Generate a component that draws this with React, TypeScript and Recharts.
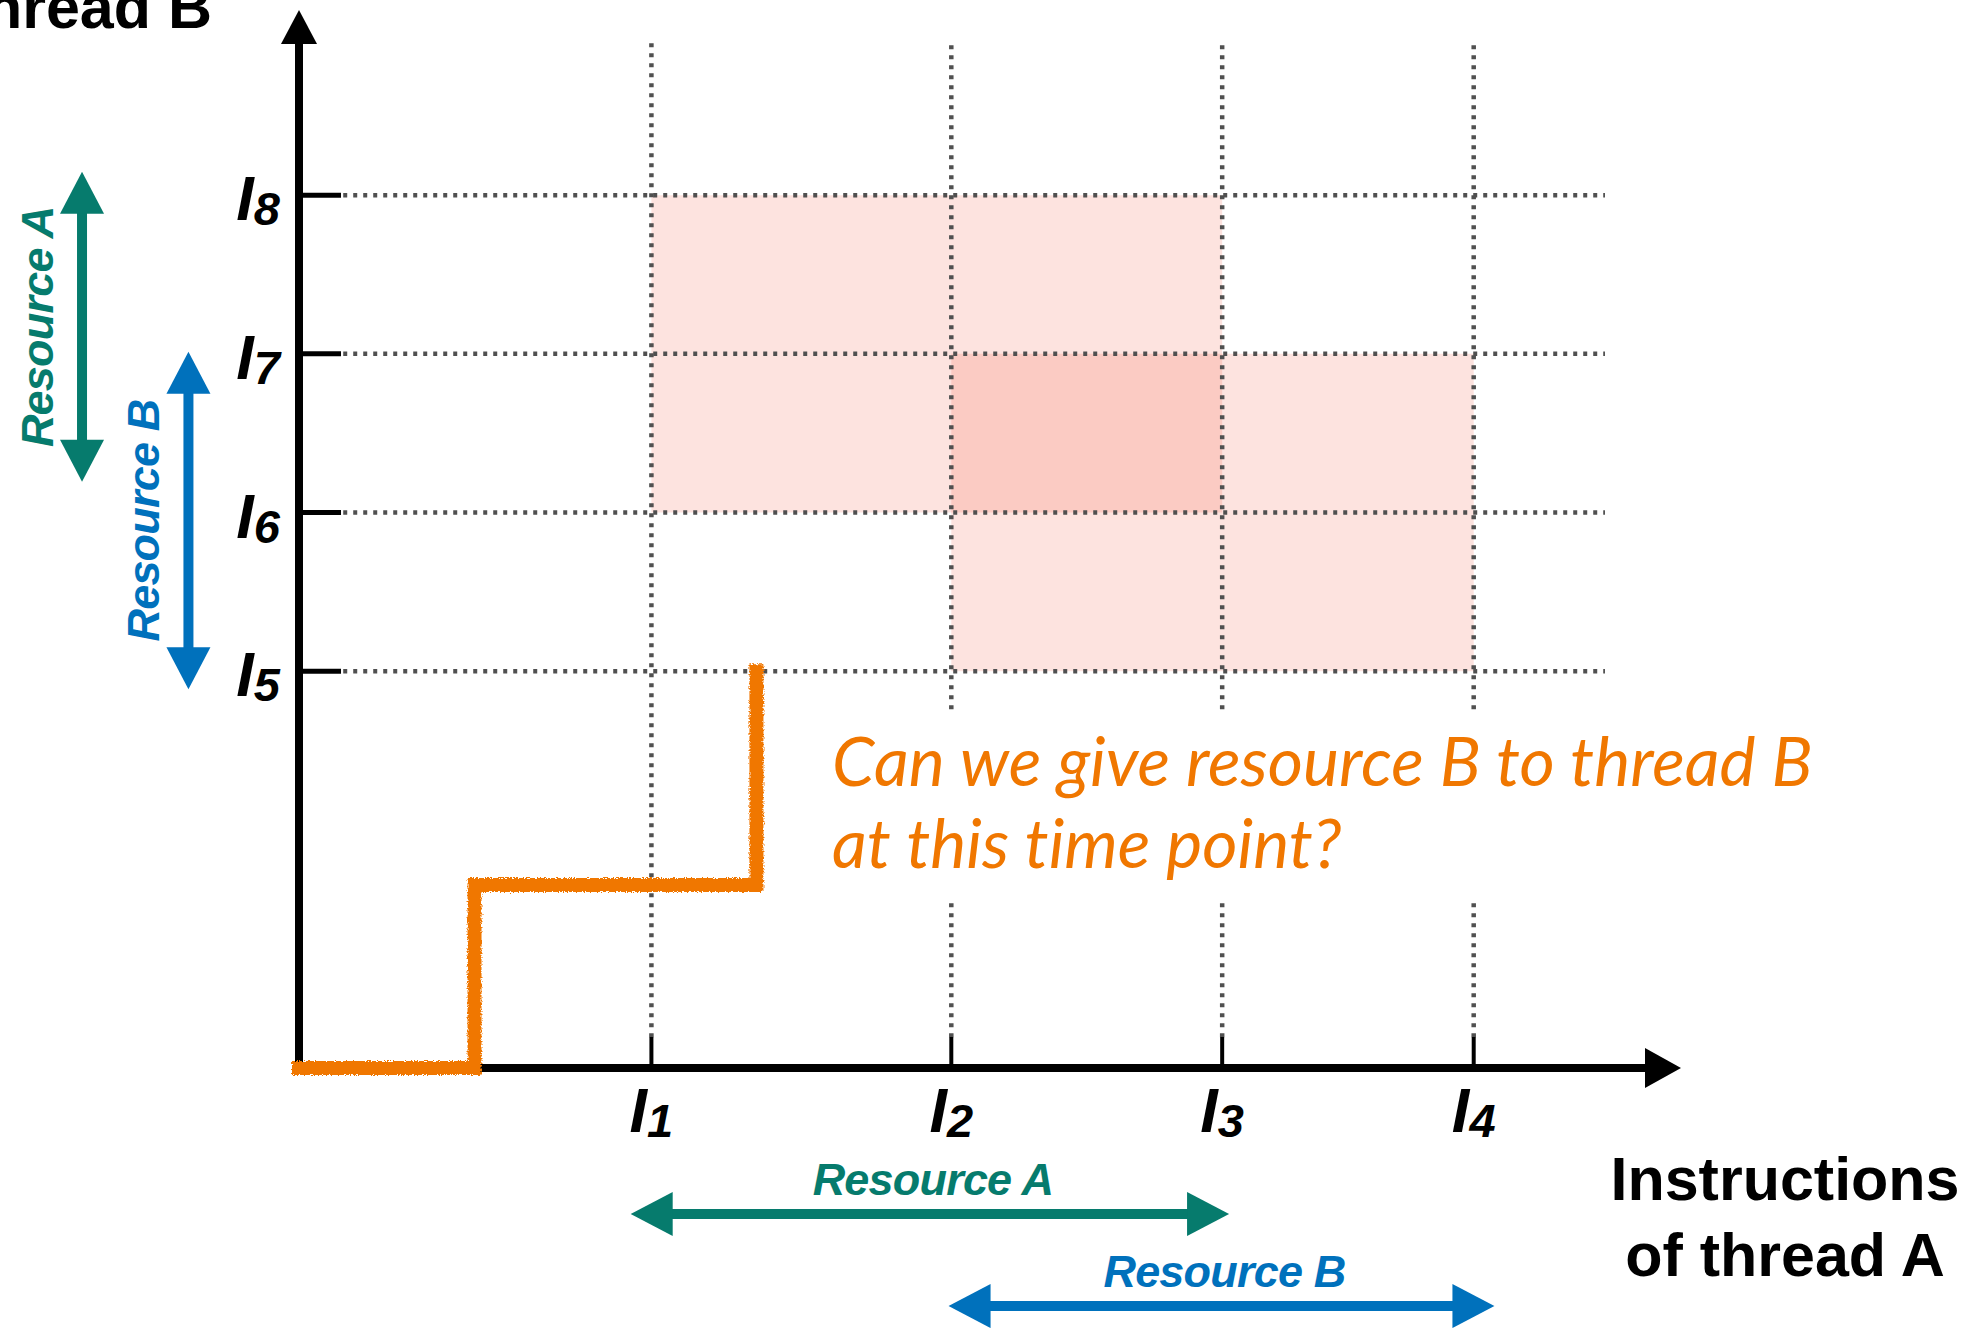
import React from 'react';
import { ComposedChart, Line, XAxis, YAxis, ReferenceLine, ReferenceArea } from 'recharts';

const W = 1978;
const H = 1328;

// instruction positions of each thread (axis units 0..100)
const threadATicks = [25.5, 47.2, 66.8, 85.0];
const threadALabels = ['1', '2', '3', '4'];
const threadBTicks = [37.5, 52.5, 67.5, 82.5];
const threadBLabels = ['5', '6', '7', '8'];

// joint progress of the two threads
const pathX = [0, 12.7, 33.1];
const pathY = [0, 17.3, 37.5];

// where each resource is held (forbidden zones)
const zoneNames = ['Resource A', 'Resource B'];
const zoneX = [[threadATicks[0], threadATicks[2]], [threadATicks[1], threadATicks[3]]];
const zoneY = [[threadBTicks[1], threadBTicks[3]], [threadBTicks[0], threadBTicks[2]]];

// resource arrows below the x axis and left of the y axis
const holdXSpan = [[24.0, 67.3], [47.0, 86.5]];
const holdXLevel = [-13.8, -22.5];
const holdYSpan = [[84.7, 55.4], [67.7, 35.8]];
const holdYLevel = [-15.7, -8.0];

// dotted guide extents, and the gap left for the question
const gridXRange = [3.2, 94.5];
const gridYRange = [2.9, 97.0];
const questionGap = [16.1, 33.9];
const questionFromX = 37.7;

const question = ['Can we give resource B to thread B', 'at this time point?'];

const teal = '#067b6d';
const blue = '#0071bc';
const orange = '#f07700';
const grid = '#505050';
const resColors = [teal, blue];
const font = "'Liberation Sans', Arial, Helvetica, sans-serif";

const data = pathX.map((x, i) => ({ x, y: pathY[i] }));

type Seg = { x1?: number; y1?: number; x2?: number; y2?: number };

const arrowShape = (
  color: string,
  width: number,
  head: number,
  headW: number,
  both: boolean,
  extra?: (x1: number, y1: number, x2: number, y2: number) => React.ReactNode
) => (p: Seg) => {
  const x1 = Number(p.x1), y1 = Number(p.y1), x2 = Number(p.x2), y2 = Number(p.y2);
  const len = Math.hypot(x2 - x1, y2 - y1) || 1;
  const ux = (x2 - x1) / len;
  const uy = (y2 - y1) / len;
  const nx = -uy;
  const ny = ux;
  const tri = (tx: number, ty: number, dx: number, dy: number) => {
    const bx = tx - dx * head;
    const by = ty - dy * head;
    return `${tx},${ty} ${bx + (nx * headW) / 2},${by + (ny * headW) / 2} ${bx - (nx * headW) / 2},${by - (ny * headW) / 2}`;
  };
  const sx = both ? x1 + ux * (head - 2) : x1;
  const sy = both ? y1 + uy * (head - 2) : y1;
  const ex = x2 - ux * (head - 2);
  const ey = y2 - uy * (head - 2);
  return (
    <g>
      <line x1={sx} y1={sy} x2={ex} y2={ey} stroke={color} strokeWidth={width} />
      <polygon points={tri(x2, y2, ux, uy)} fill={color} />
      {both && <polygon points={tri(x1, y1, -ux, -uy)} fill={color} />}
      {extra && extra(x1, y1, x2, y2)}
    </g>
  );
};

const IndexLabel = ({ x, y, digit, anchor }: { x: number; y: number; digit: string; anchor: 'middle' | 'end' }) => (
  <text x={x} y={y} textAnchor={anchor} fontFamily={font} fontWeight="bold" fontStyle="italic" fill="#000">
    <tspan fontSize={63}>I</tspan>
    <tspan fontSize={47} dy={5}>{digit}</tspan>
  </text>
);

const XTick = (props: any) => {
  const { x, y, payload } = props;
  const i = threadATicks.indexOf(payload.value);
  return (
    <g>
      <line x1={x} y1={y} x2={x} y2={y - 31} stroke="#000" strokeWidth={4} />
      <IndexLabel x={x} y={y + 64} digit={threadALabels[i]} anchor="middle" />
    </g>
  );
};

const YTick = (props: any) => {
  const { x, y, payload } = props;
  const i = threadBTicks.indexOf(payload.value);
  return (
    <g>
      <line x1={x} y1={y} x2={x + 42} y2={y} stroke="#000" strokeWidth={5} />
      <IndexLabel x={x - 19} y={y + 25} digit={threadBLabels[i]} anchor="end" />
    </g>
  );
};

const titleStyle = { fontFamily: font, fontWeight: 'bold' as const, fontSize: 61, fill: '#000' };
const dots = { stroke: grid, strokeWidth: 4.5, strokeDasharray: '4 6', ifOverflow: 'visible' as const, zIndex: 20 };

export default function App() {
  return (
    <div style={{ position: 'absolute', left: 0, top: 0, width: W, height: H, background: '#fff' }}>
      <ComposedChart
        width={W}
        height={H}
        data={data}
        margin={{ top: 10, right: 297, bottom: 160, left: 199 }}
      >
        <XAxis
          dataKey="x"
          type="number"
          domain={[0, 100]}
          ticks={threadATicks}
          interval={0}
          height={100}
          axisLine={false}
          tickLine={false}
          tickSize={0}
          tickMargin={0}
          tick={<XTick />}
        />
        <YAxis
          type="number"
          domain={[0, 100]}
          ticks={threadBTicks}
          interval={0}
          width={100}
          axisLine={false}
          tickLine={false}
          tickSize={0}
          tickMargin={0}
          tick={<YTick />}
        />

        {zoneNames.map((n, i) => (
          <ReferenceArea
            key={n}
            x1={zoneX[i][0]}
            x2={zoneX[i][1]}
            y1={zoneY[i][0]}
            y2={zoneY[i][1]}
            fill="#f2442a"
            fillOpacity={0.15}
            stroke="none"
            ifOverflow="visible"
            zIndex={10}
          />
        ))}

        {threadBTicks.map((v) => (
          <ReferenceLine
            key={'h' + v}
            segment={[{ x: gridXRange[0], y: v }, { x: gridXRange[1], y: v }]}
            {...dots}
          />
        ))}
        {threadATicks.map((v) =>
          v > questionFromX ? (
            <React.Fragment key={'v' + v}>
              <ReferenceLine segment={[{ x: v, y: gridYRange[0] }, { x: v, y: questionGap[0] }]} {...dots} />
              <ReferenceLine segment={[{ x: v, y: questionGap[1] }, { x: v, y: gridYRange[1] }]} {...dots} />
            </React.Fragment>
          ) : (
            <ReferenceLine key={'v' + v} segment={[{ x: v, y: gridYRange[0] }, { x: v, y: gridYRange[1] }]} {...dots} />
          )
        )}

        {/* axes with arrow heads and titles */}
        <ReferenceLine
          segment={[{ x: 0, y: 0 }, { x: 100, y: 0 }]}
          ifOverflow="visible"
          zIndex={30}
          shape={arrowShape('#000', 8, 36, 40, false, (_x1, _y1, x2, y2) => (
            <text textAnchor="middle" {...titleStyle}>
              <tspan x={x2 + 104} y={y2 + 132}>Instructions</tspan>
              <tspan x={x2 + 104} y={y2 + 208}>of thread A</tspan>
            </text>
          ))}
        />
        <ReferenceLine
          segment={[{ x: 0, y: 0 }, { x: 0, y: 100 }]}
          ifOverflow="visible"
          zIndex={30}
          shape={arrowShape('#000', 8, 34, 36, false, (_x1, _y1, x2, y2) => (
            <g>
              <defs>
                <filter id="rough" x="-5%" y="-5%" width="110%" height="110%">
                  <feTurbulence type="fractalNoise" baseFrequency="0.7" numOctaves="2" seed="3" result="noise" />
                  <feDisplacementMap in="SourceGraphic" in2="noise" scale="5" xChannelSelector="R" yChannelSelector="G" />
                </filter>
              </defs>
              <text x={x2 - 87} y={y2 + 18} textAnchor="end" {...titleStyle}>
                of thread B
              </text>
            </g>
          ))}
        />

        {zoneNames.map((n, i) => (
          <ReferenceLine
            key={'rx' + n}
            segment={[{ x: holdXSpan[i][0], y: holdXLevel[i] }, { x: holdXSpan[i][1], y: holdXLevel[i] }]}
            ifOverflow="visible"
            zIndex={30}
            shape={arrowShape(resColors[i], 10, 42, 44, true, (x1, y1, x2) => (
              <text
                x={(x1 + x2) / 2 + 3}
                y={y1 - 19}
                textAnchor="middle"
                fontFamily={font}
                fontWeight="bold"
                fontStyle="italic"
                fontSize={45}
                letterSpacing={-0.8}
                fill={resColors[i]}
              >
                {n}
              </text>
            ))}
          />
        ))}
        {zoneNames.map((n, i) => (
          <ReferenceLine
            key={'ry' + n}
            segment={[{ x: holdYLevel[i], y: holdYSpan[i][0] }, { x: holdYLevel[i], y: holdYSpan[i][1] }]}
            ifOverflow="visible"
            zIndex={30}
            shape={arrowShape(resColors[i], 10, 42, 44, true, (x1, y1, _x2, y2) => {
              const cx = x1 - 29;
              const cy = (y1 + y2) / 2;
              return (
                <text
                  x={cx}
                  y={cy}
                  transform={`rotate(-90 ${cx} ${cy})`}
                  textAnchor="middle"
                  fontFamily={font}
                  fontWeight="bold"
                  fontStyle="italic"
                  fontSize={45}
                  letterSpacing={-0.8}
                  fill={resColors[i]}
                >
                  {n}
                </text>
              );
            })}
          />
        ))}

        {/* the question, placed in the gap of the guides */}
        <ReferenceArea
          x1={questionFromX}
          x2={questionFromX}
          y1={questionGap[0]}
          y2={questionGap[1]}
          fill="none"
          stroke="none"
          ifOverflow="visible"
          zIndex={40}
          label={(p: any) => {
            const vb = p.viewBox || {};
            const x = Number(vb.x) + 12;
            const y = Number(vb.y);
            return (
              <text
                fontFamily="Lato, 'Open Sans', sans-serif"
                fontStyle="italic"
                fontSize={68}
                fill={orange}
                style={{ fontVariantLigatures: 'none' }}
              >
                <tspan x={x} y={y + 77}>{question[0]}</tspan>
                <tspan x={x} y={y + 159}>{question[1]}</tspan>
              </text>
            );
          }}
        />

        <Line
          dataKey="y"
          type="stepAfter"
          stroke={orange}
          strokeWidth={14}
          strokeLinecap="square"
          strokeLinejoin="miter"
          filter="url(#rough)"
          dot={false}
          activeDot={false}
          isAnimationActive={false}
          zIndex={50}
        />
      </ComposedChart>
    </div>
  );
}
